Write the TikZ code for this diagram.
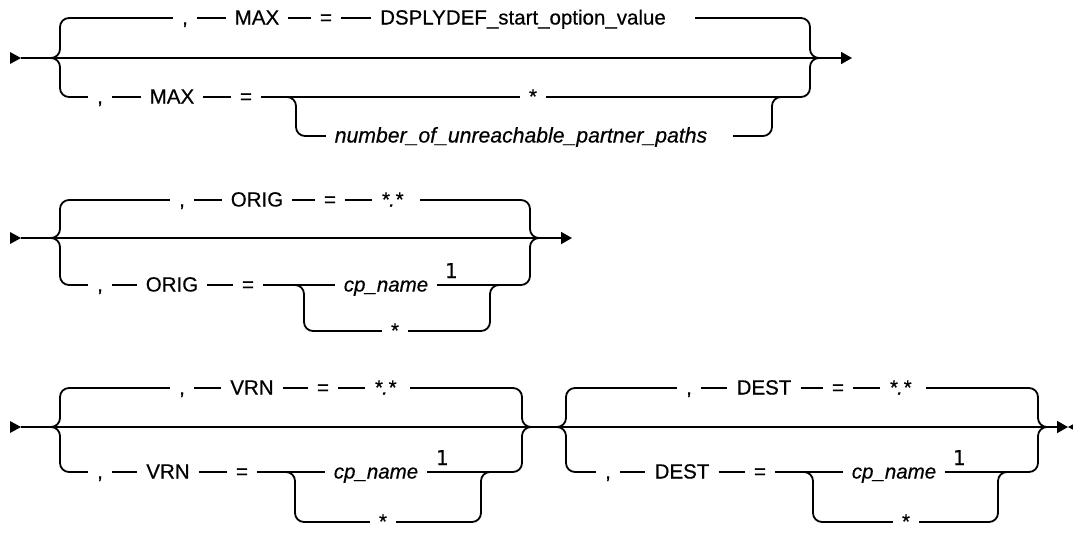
\documentclass[tikz,border=0pt]{standalone}
\usepackage{fontspec}
\setmainfont{Liberation Sans}[FakeBold=0.5]
\setmonofont{DejaVu Sans Mono}[FakeBold=0.5]
\usetikzlibrary{arrows.meta}
\newcommand{\synfont}{\fontsize{20.5}{24}\selectfont}
\tikzset{
  rail/.style={line width=1.8pt},
  railbend/.style={rail, rounded corners=9pt},
  endtip/.style={-{Triangle[length=11pt,width=12pt]}},
  tok/.style={inner xsep=9pt, inner ysep=0pt, text height=13pt, text depth=0pt, font=\synfont},
  vtok/.style={tok, font=\synfont\itshape},
  fnote/.style={inner sep=0pt, anchor=base, font=\synfont\ttfamily},
}
\begin{document}
\begin{tikzpicture}[x=1pt, y=-1pt]
  \useasboundingbox (0,0) rectangle (1073,533);

  % Row 1: MAX
  \coordinate (s1) at (21,58);
  \coordinate (e1) at (852,58);
  \fill (10,52) -- (s1) -- (10,64) -- cycle;
  \draw[rail, endtip] (s1) -- (e1);
  \draw[railbend] (72,18) -- (60,18) -- (60,58) -- (48,58);
  \draw[railbend] (72,97) -- (60,97) -- (60,58) -- (48,58);
  \draw[railbend] (798,18) -- (810,18) -- (810,58) -- (822,58);
  \draw[railbend] (798,97) -- (810,97) -- (810,58) -- (822,58);

  % top branch
  \coordinate (l1t) at (72,18);
  \coordinate (r1t) at (798,18);
  \node[tok] (c1t) at (185,18) {,};
  \node[tok] (k1t) at (257,18) {MAX};
  \node[tok] (q1t) at (326,18) {=};
  \node[tok] (v1t) at (523,18) {DSPLYDEF\_start\_option\_value};
  \coordinate (w1t) at (695,18);
  \draw[rail] (l1t) -- (c1t) -- (k1t) -- (q1t) -- (v1t);
  \draw[rail] (w1t) -- (r1t);

  % bottom branch
  \coordinate (l1b) at (72,97);
  \coordinate (r1b) at (798,97);
  \node[tok] (c1b) at (100,97) {,};
  \node[tok] (k1b) at (172,97) {MAX};
  \node[tok] (q1b) at (246,97) {=};
  \node[tok] (a1b) at (533,97) {*};
  \draw[rail] (l1b) -- (c1b) -- (k1b) -- (q1b) -- (a1b) -- (r1b);

  % number branch
  \coordinate (d1) at (286,97);
  \coordinate (f1) at (306,136);
  \node[vtok, font=\fontsize{21.2}{24}\selectfont\itshape] (n1) at (521,136) {number\_of\_unreachable\_partner\_paths};
  \coordinate (g1) at (733,136);
  \coordinate (h1) at (782,97);
  \draw[railbend] (d1) -- (296,97) -- (296,136) -- (f1);
  \draw[rail] (f1) -- (n1);
  \draw[railbend] (g1) -- (772,136) -- (772,97) -- (h1);

  % Row 2: ORIG
  \coordinate (s2) at (21,238);
  \coordinate (e2) at (572,238);
  \fill (10,232) -- (s2) -- (10,244) -- cycle;
  \draw[rail, endtip] (s2) -- (e2);
  \draw[railbend] (72,200) -- (60,200) -- (60,238) -- (48,238);
  \draw[railbend] (72,285) -- (60,285) -- (60,238) -- (48,238);
  \draw[railbend] (518,200) -- (530,200) -- (530,238) -- (542,238);
  \draw[railbend] (518,285) -- (530,285) -- (530,238) -- (542,238);

  \coordinate (l2t) at (72,200);
  \coordinate (r2t) at (518,200);
  \node[tok] (c2t) at (182,200) {,};
  \node[tok] (k2t) at (257,200) {ORIG};
  \node[tok] (q2t) at (330,200) {=};
  \node[vtok] (a2t) at (392,200) {*.*};
  \coordinate (w2t) at (420,200);
  \draw[rail] (l2t) -- (c2t) -- (k2t) -- (q2t) -- (a2t);
  \draw[rail] (w2t) -- (r2t);

  \coordinate (l2b) at (72,285);
  \coordinate (r2b) at (518,285);
  \node[tok] (c2b) at (100,285) {,};
  \node[tok] (k2b) at (172,285) {ORIG};
  \node[tok] (q2b) at (248,285) {=};
  \node[vtok] (p2) at (386,285) {cp\_name};
  \node[fnote] (m2) at (451,278) {1};
  \draw[rail] (l2b) -- (c2b) -- (k2b) -- (q2b) -- (p2) -- (r2b);

  \coordinate (d2) at (294,285);
  \coordinate (f2) at (316,331);
  \node[tok] (a2s) at (395,331) {*};
  \coordinate (g2) at (478,331);
  \coordinate (h2) at (502,285);
  \draw[railbend] (d2) -- (304,285) -- (304,331) -- (f2);
  \draw[rail] (f2) -- (a2s) -- (g2);
  \draw[railbend] (g2) -- (490,331) -- (490,285) -- (h2);

  % Row 3: VRN and DEST
  \coordinate (s3) at (21,427);
  \coordinate (e3) at (1068,427);
  \fill (10,421) -- (s3) -- (10,433) -- cycle;
  \draw[rail, endtip] (s3) -- (e3);
  \fill (1079,421) -- (e3) -- (1079,433) -- cycle;
  \draw[railbend] (72,388) -- (60,388) -- (60,427) -- (48,427);
  \draw[railbend] (72,472) -- (60,472) -- (60,427) -- (48,427);
  \draw[railbend] (510,388) -- (522,388) -- (522,427) -- (534,427);
  \draw[railbend] (510,472) -- (522,472) -- (522,427) -- (534,427);
  \draw[railbend] (578,388) -- (566,388) -- (566,427) -- (554,427);
  \draw[railbend] (578,472) -- (566,472) -- (566,427) -- (554,427);
  \draw[railbend] (1026,388) -- (1038,388) -- (1038,427) -- (1050,427);
  \draw[railbend] (1026,472) -- (1038,472) -- (1038,427) -- (1050,427);

  % VRN top
  \coordinate (l3t) at (72,388);
  \coordinate (r3t) at (510,388);
  \node[tok] (c3t) at (182,388) {,};
  \node[tok] (k3t) at (252,388) {VRN};
  \node[tok] (q3t) at (323,388) {=};
  \node[vtok] (a3t) at (385,388) {*.*};
  \coordinate (w3t) at (410,388);
  \draw[rail] (l3t) -- (c3t) -- (k3t) -- (q3t) -- (a3t);
  \draw[rail] (w3t) -- (r3t);

  % VRN bottom
  \coordinate (l3b) at (72,472);
  \coordinate (r3b) at (510,472);
  \node[tok] (c3b) at (100,472) {,};
  \node[tok] (k3b) at (168,472) {VRN};
  \node[tok] (q3b) at (242,472) {=};
  \node[vtok] (p3) at (376,472) {cp\_name};
  \node[fnote] (m3) at (442,465) {1};
  \draw[rail] (l3b) -- (c3b) -- (k3b) -- (q3b) -- (p3) -- (r3b);

  \coordinate (d3) at (285,472);
  \coordinate (f3) at (307,522);
  \node[tok] (a3s) at (383,522) {*};
  \coordinate (g3) at (469,522);
  \coordinate (h3) at (493,472);
  \draw[railbend] (d3) -- (295,472) -- (295,522) -- (f3);
  \draw[rail] (f3) -- (a3s) -- (g3);
  \draw[railbend] (g3) -- (481,522) -- (481,472) -- (h3);

  % DEST top
  \coordinate (l4t) at (578,388);
  \coordinate (r4t) at (1026,388);
  \node[tok] (c4t) at (689,388) {,};
  \node[tok] (k4t) at (764,388) {DEST};
  \node[tok] (q4t) at (838,388) {=};
  \node[vtok] (a4t) at (900,388) {*.*};
  \coordinate (w4t) at (926,388);
  \draw[rail] (l4t) -- (c4t) -- (k4t) -- (q4t) -- (a4t);
  \draw[rail] (w4t) -- (r4t);

  % DEST bottom
  \coordinate (l4b) at (578,472);
  \coordinate (r4b) at (1026,472);
  \node[tok] (c4b) at (608,472) {,};
  \node[tok] (k4b) at (682,472) {DEST};
  \node[tok] (q4b) at (760,472) {=};
  \node[vtok] (p4) at (894,472) {cp\_name};
  \node[fnote] (m4) at (959,465) {1};
  \draw[rail] (l4b) -- (c4b) -- (k4b) -- (q4b) -- (p4) -- (r4b);

  \coordinate (d4) at (803,472);
  \coordinate (f4) at (825,522);
  \node[tok] (a4s) at (906,522) {*};
  \coordinate (g4) at (986,522);
  \coordinate (h4) at (1010,472);
  \draw[railbend] (d4) -- (813,472) -- (813,522) -- (f4);
  \draw[rail] (f4) -- (a4s) -- (g4);
  \draw[railbend] (g4) -- (998,522) -- (998,472) -- (h4);
\end{tikzpicture}
\end{document}
